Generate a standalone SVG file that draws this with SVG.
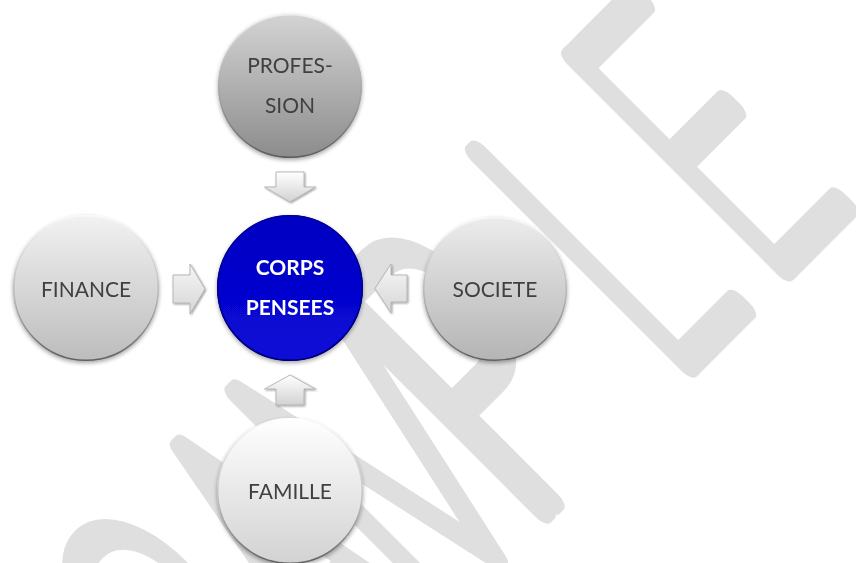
<svg xmlns="http://www.w3.org/2000/svg" width="856" height="563" viewBox="0 0 856 563">
  <defs>
    <linearGradient id="gDark" x1="0" y1="0" x2="0" y2="1">
      <stop offset="0" stop-color="#d4d4d4"/>
      <stop offset="1" stop-color="#8c8c8c"/>
    </linearGradient>
    <linearGradient id="gMid" x1="0" y1="0" x2="0" y2="1">
      <stop offset="0" stop-color="#ececec"/>
      <stop offset="1" stop-color="#b4b4b4"/>
    </linearGradient>
    <linearGradient id="gLight" x1="0" y1="0" x2="0" y2="1">
      <stop offset="0" stop-color="#f2f2f2"/>
      <stop offset="1" stop-color="#bcbcbc"/>
    </linearGradient>
    <linearGradient id="gWhite" x1="0" y1="0" x2="0" y2="1">
      <stop offset="0" stop-color="#ffffff"/>
      <stop offset="1" stop-color="#d2d2d2"/>
    </linearGradient>
    <linearGradient id="gBlue" x1="0" y1="0" x2="0" y2="1">
      <stop offset="0" stop-color="#0000c2"/>
      <stop offset="1" stop-color="#0a0ad8"/>
    </linearGradient>
    <linearGradient id="gRim" x1="0" y1="0" x2="0" y2="1">
      <stop offset="0" stop-color="#ffffff" stop-opacity="0.6"/>
      <stop offset="0.55" stop-color="#9a9a9a" stop-opacity="0.5"/>
      <stop offset="1" stop-color="#555555" stop-opacity="0.9"/>
    </linearGradient>
    <linearGradient id="gBlueRim" x1="0" y1="0" x2="0" y2="1">
      <stop offset="0" stop-color="#0000a0"/>
      <stop offset="1" stop-color="#000070"/>
    </linearGradient>
    <linearGradient id="gArrowV" x1="0" y1="0" x2="0" y2="1">
      <stop offset="0" stop-color="#ffffff"/>
      <stop offset="1" stop-color="#d2d2d2"/>
    </linearGradient>
    <linearGradient id="gArrowH" x1="0" y1="0" x2="0" y2="1">
      <stop offset="0" stop-color="#f6f6f6"/>
      <stop offset="1" stop-color="#d6d6d6"/>
    </linearGradient>
    <filter id="shadow" x="-20%" y="-20%" width="140%" height="140%">
      <feGaussianBlur in="SourceAlpha" stdDeviation="2"/>
      <feOffset dx="0" dy="2" result="b"/>
      <feComponentTransfer><feFuncA type="linear" slope="0.35"/></feComponentTransfer>
      <feMerge><feMergeNode/><feMergeNode in="SourceGraphic"/></feMerge>
    </filter>
    <filter id="ashadow" x="-30%" y="-30%" width="160%" height="160%">
      <feGaussianBlur in="SourceAlpha" stdDeviation="1.2"/>
      <feOffset dx="0.5" dy="1"/>
      <feComponentTransfer><feFuncA type="linear" slope="0.4"/></feComponentTransfer>
      <feMerge><feMergeNode/><feMergeNode in="SourceGraphic"/></feMerge>
    </filter>
  </defs>
  <style>
    .lbl { font-family: "Lato", "Open Sans", "Liberation Sans", sans-serif; font-size: 21px; fill: #3f3f3f; text-anchor: middle; }
    .core { font-family: "Lato", "Open Sans", "Liberation Sans", sans-serif; font-size: 21px; font-weight: bold; fill: #ffffff; text-anchor: middle; }
    .rim { fill: none; stroke: url(#gRim); stroke-width: 1.5; }
    .arrow { stroke: #a9a9a9; stroke-width: 0.8; stroke-linejoin: miter; filter: url(#ashadow); }
    .wm { font-family: "Roboto", "Liberation Sans", sans-serif; font-weight: 100; font-size: 420px; fill: #dfdfdf; stroke: #dfdfdf; stroke-width: 22; stroke-linejoin: round; vector-effect: non-scaling-stroke; }
  </style>

  <rect width="856" height="563" fill="#ffffff"/>

  <!-- background stamp -->
  <g id="watermark" transform="translate(526.8 526.8) rotate(-45) scale(0.5 1)">
    <text class="wm" x="-772 -500 -268 24 412 684" y="0">SAMPLE</text>
  </g>

  <!-- block arrows pointing at the centre -->
  <g id="connectors">
    <path class="arrow" fill="url(#gArrowV)" d="M276,172 H304 V187 H315.5 L290,202 L264.5,187 H276 Z"/>
    <path class="arrow" fill="url(#gArrowH)" d="M173,275 H190 V264 L205,289 L190,314 V303 H173 Z"/>
    <path class="arrow" fill="url(#gArrowH)" d="M407,275 H391 V264 L375,288.5 L391,313 V302 H407 Z"/>
    <path class="arrow" fill="url(#gArrowV)" d="M276,405 H304 V389 H315.5 L290,375 L264.5,389 H276 Z"/>
  </g>

  <g id="profession" filter="url(#shadow)">
    <circle cx="290" cy="86" r="72" fill="url(#gDark)"/>
    <circle class="rim" cx="290" cy="86" r="71.3"/>
    <text class="lbl" x="290" y="73">PROFES-</text>
    <text class="lbl" x="290" y="113">SION</text>
  </g>

  <g id="finance" filter="url(#shadow)">
    <circle cx="86" cy="288" r="73" fill="url(#gLight)"/>
    <circle class="rim" cx="86" cy="288" r="72.3"/>
    <text class="lbl" x="86" y="297">FINANCE</text>
  </g>

  <g id="societe" filter="url(#shadow)">
    <circle cx="495" cy="289" r="72" fill="url(#gMid)"/>
    <circle class="rim" cx="495" cy="289" r="71.3"/>
    <text class="lbl" x="495" y="297">SOCIETE</text>
  </g>

  <g id="famille" filter="url(#shadow)">
    <circle cx="290" cy="491" r="73" fill="url(#gWhite)"/>
    <circle class="rim" cx="290" cy="491" r="72.3"/>
    <text class="lbl" x="290" y="499">FAMILLE</text>
  </g>

  <g id="corps-pensees" filter="url(#shadow)">
    <circle cx="290" cy="288" r="73" fill="url(#gBlue)"/>
    <circle cx="290" cy="288" r="72.3" fill="none" stroke="url(#gBlueRim)" stroke-width="1.5"/>
    <text class="core" x="290" y="275">CORPS</text>
    <text class="core" x="290" y="315">PENSEES</text>
  </g>
</svg>
